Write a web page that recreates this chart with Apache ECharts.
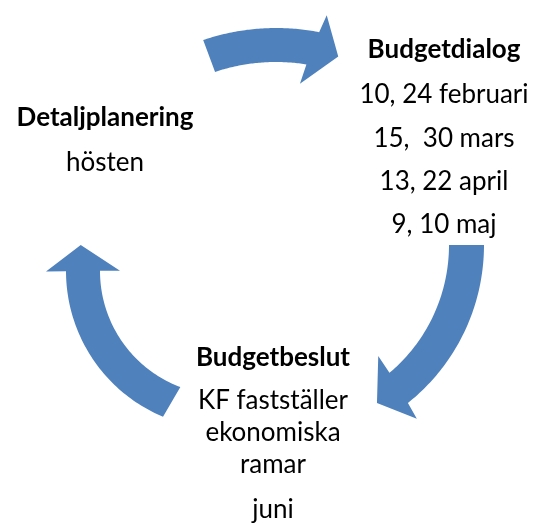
<!DOCTYPE html>
<html>
<head>
<meta charset="utf-8">
<script src="https://cdn.jsdelivr.net/npm/echarts@6/dist/echarts.min.js"></script>
<style>
html,body{margin:0;padding:0;background:#fff;}
#main{width:534px;height:524px;}
</style>
</head>
<body>
<div id="main"></div>
<script>
// ---- data ----
const stageTitles = ['Budgetdialog', 'Budgetbeslut', 'Detaljplanering'];
const stageDetails = [
  ['10, 24 februari', '15,  30 mars', '13, 22 april', '9, 10 maj'],
  ['KF fastställer\nekonomiska\nramar', 'juni'],
  ['hösten']
];
// arrows: [from stage, to stage]
const arrowLinks = [[2, 0], [0, 1], [1, 2]];

// ---- layout (positions, not data) ----
const FS = 26;
const textLayout = [
  {x: 444, title: 59, details: [104, 148, 191, 234]},
  {x: 273, title: 367, details: [410, 519]},
  {x: 105, title: 127, details: [172]}
];
const WRAP_LH = 32;
const arrowGeom = [
  {c: [276, 254], rIn: 192, rOut: 226, tailOut: -108.8, tailIn: -108.5, headOut: [244, -78], headIn: [172, -82], tip: [207, -72.5]},
  {c: [282, 245], rIn: 167, rOut: 202, tailOut: 0, tailIn: 0, headOut: [220, 52.2], headIn: [147, 49.1], tip: [184.4, 59]},
  {c: [224, 271], rIn: 124, rOut: 158, tailOut: 112.7, tailIn: 110.6, headOut: [178, 179.8], headIn: [104, 180.2], tip: [145.6, 190.3]}
];

const chart = echarts.init(document.getElementById('main'));

function renderArrow(params, api) {
  const g = arrowGeom[params.dataIndex];
  const pt = (r, a) => {
    const t = a * Math.PI / 180;
    return api.coord([g.c[0] + r * Math.cos(t), g.c[1] + r * Math.sin(t)]);
  };
  const angAt = r => g.headIn[1] + (r - g.headIn[0]) / (g.headOut[0] - g.headIn[0]) * (g.headOut[1] - g.headIn[1]);
  const endOut = angAt(g.rOut), endIn = angAt(g.rIn);
  const N = 60, pts = [];
  for (let i = 0; i <= N; i++) pts.push(pt(g.rOut, g.tailOut + (endOut - g.tailOut) * i / N));
  pts.push(pt(g.headOut[0], g.headOut[1]));
  pts.push(pt(g.tip[0], g.tip[1]));
  pts.push(pt(g.headIn[0], g.headIn[1]));
  for (let i = 0; i <= N; i++) pts.push(pt(g.rIn, endIn + (g.tailIn - endIn) * i / N));
  return {type: 'polygon', shape: {points: pts}, style: {fill: '#4F81BD'}};
}

const graphics = [];
const MID = 0.36 * FS;
stageTitles.forEach((t, i) => {
  const L = textLayout[i];
  graphics.push({type: 'text', x: L.x, y: L.title - MID,
    style: {text: t, font: 'bold ' + FS + 'px Lato', fill: '#000', align: 'center', verticalAlign: 'middle'}});
  stageDetails[i].forEach((d, j) => {
    d.split('\n').forEach((line, k) => {
      graphics.push({type: 'text', x: L.x, y: L.details[j] + k * WRAP_LH - MID,
        style: {text: line, font: FS + 'px Lato', fill: '#000', align: 'center', verticalAlign: 'middle'}});
    });
  });
});

chart.setOption({
  backgroundColor: '#fff',
  animation: false,
  grid: {left: 0, right: 0, top: 0, bottom: 0},
  xAxis: {type: 'value', min: 0, max: 534, show: false},
  yAxis: {type: 'value', min: 0, max: 524, inverse: true, show: false},
  series: [{
    type: 'custom',
    coordinateSystem: 'cartesian2d',
    clip: false,
    data: arrowLinks.map((l, i) => [l[0], l[1]]),
    renderItem: renderArrow
  }],
  graphic: graphics
});
</script>
</body>
</html>
